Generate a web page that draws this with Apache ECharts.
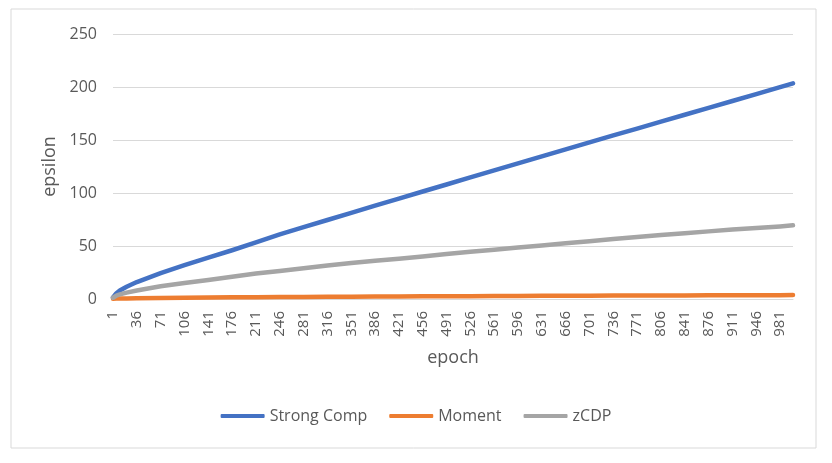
<!DOCTYPE html>
<html>
<head>
<meta charset="utf-8">
<script src="https://cdn.jsdelivr.net/npm/echarts@6/dist/echarts.min.js"></script>
<style>
  html, body { margin: 0; padding: 0; background: #fff; }
  #chart { width: 832px; height: 463px; }
</style>
</head>
<body>
<div id="chart"></div>
<script>
const epochs = [1, 6, 11, 21, 36, 71, 106, 141, 176, 211, 246, 281, 316, 351, 386, 421, 456, 491, 526,
  561, 596, 631, 666, 701, 736, 771, 806, 841, 876, 911, 946, 981, 1000];
const strongComp = [1.5, 5.5, 8, 11.5, 16, 24.5, 32, 39, 46, 53.5, 61, 67.8, 74.5, 81.2, 88, 94.7, 101.4, 108, 114.7,
  121.4, 128, 134.6, 141.2, 147.8, 154.3, 160.8, 167.3, 173.8, 180.3, 186.8, 193.3, 199.8, 203.5];
const moment = [0.3, 0.4, 0.45, 0.55, 0.8, 1.0, 1.2, 1.4, 1.6, 1.7, 1.85, 2.0, 2.1, 2.2, 2.3, 2.4, 2.5, 2.6, 2.7,
  2.8, 2.9, 2.95, 3.0, 3.1, 3.2, 3.25, 3.3, 3.4, 3.45, 3.55, 3.6, 3.65, 3.7];
const zcdp = [1.2, 3.2, 4.3, 6, 8, 12, 15, 18, 21, 24, 26.5, 29, 31.5, 34, 36, 38, 40, 42.5, 44.5,
  46.5, 48.5, 50.5, 52.5, 54.5, 56.5, 58.5, 60.3, 62, 63.8, 65.5, 67, 68.5, 69.5];
const lastEpoch = 1000;

// x axis categories: every epoch 1..1000, label shown every 35th
const categories = [];
for (let i = 1; i <= lastEpoch; i++) categories.push(String(i));

const pairs = function (vals) {
    return epochs.map(function (e, i) { return [e - 1, vals[i]]; });
};

const font = "'Open Sans', 'Noto Sans', sans-serif";
const textColor = "#595959";

let myChart = echarts.init(document.getElementById("chart"));
let option = {
    animation: false,
    color: ["#4472C4", "#ED7D31", "#A5A5A5"],
    graphic: [{
        type: "rect",
        shape: { x: 11, y: 9, width: 805, height: 439 },
        style: { fill: "none", stroke: "#D9D9D9", lineWidth: 1 },
        silent: true,
    }],
    grid: {
        left: 113,
        right: 39,
        top: 34,
        bottom: 164,
    },
    legend: {
        bottom: 34,
        left: "center",
        icon: "roundRect",
        itemWidth: 44,
        itemHeight: 4,
        itemGap: 22,
        textStyle: { color: textColor, fontSize: 16, fontFamily: font },
        data: ["Strong Comp", "Moment", "zCDP"],
    },
    xAxis: {
        type: "category",
        data: categories,
        boundaryGap: false,
        name: "epoch",
        nameLocation: "middle",
        nameGap: 50,
        nameTextStyle: { color: textColor, fontSize: 18, fontFamily: font },
        axisLine: { lineStyle: { color: "#D9D9D9", width: 1 } },
        axisTick: { show: false },
        axisLabel: {
            interval: 34,
            rotate: 90,
            margin: 12,
            color: textColor,
            fontSize: 15,
            fontFamily: font,
        },
        splitLine: { show: false },
    },
    yAxis: {
        type: "value",
        min: 0,
        max: 250,
        interval: 50,
        name: "epsilon",
        nameLocation: "middle",
        nameGap: 52,
        nameTextStyle: { color: textColor, fontSize: 18, fontFamily: font },
        axisLine: { show: false },
        axisTick: { show: false },
        axisLabel: { color: textColor, fontSize: 16, fontFamily: font, margin: 16 },
        splitLine: { lineStyle: { color: "#D9D9D9", width: 1 } },
    },
    series: [
        { name: "Strong Comp", data: pairs(strongComp) },
        { name: "Moment", data: pairs(moment) },
        { name: "zCDP", data: pairs(zcdp) },
    ].map(function (s) {
        return Object.assign({
            type: "line",
            showSymbol: false,
            symbol: "none",
            smooth: false,
            lineStyle: { width: 4.5, cap: "round", join: "round" },
            z: 3,
        }, s);
    }),
};
myChart.setOption(option);
window.addEventListener("resize", function () {
    myChart.resize();
});
</script>
</body>
</html>
